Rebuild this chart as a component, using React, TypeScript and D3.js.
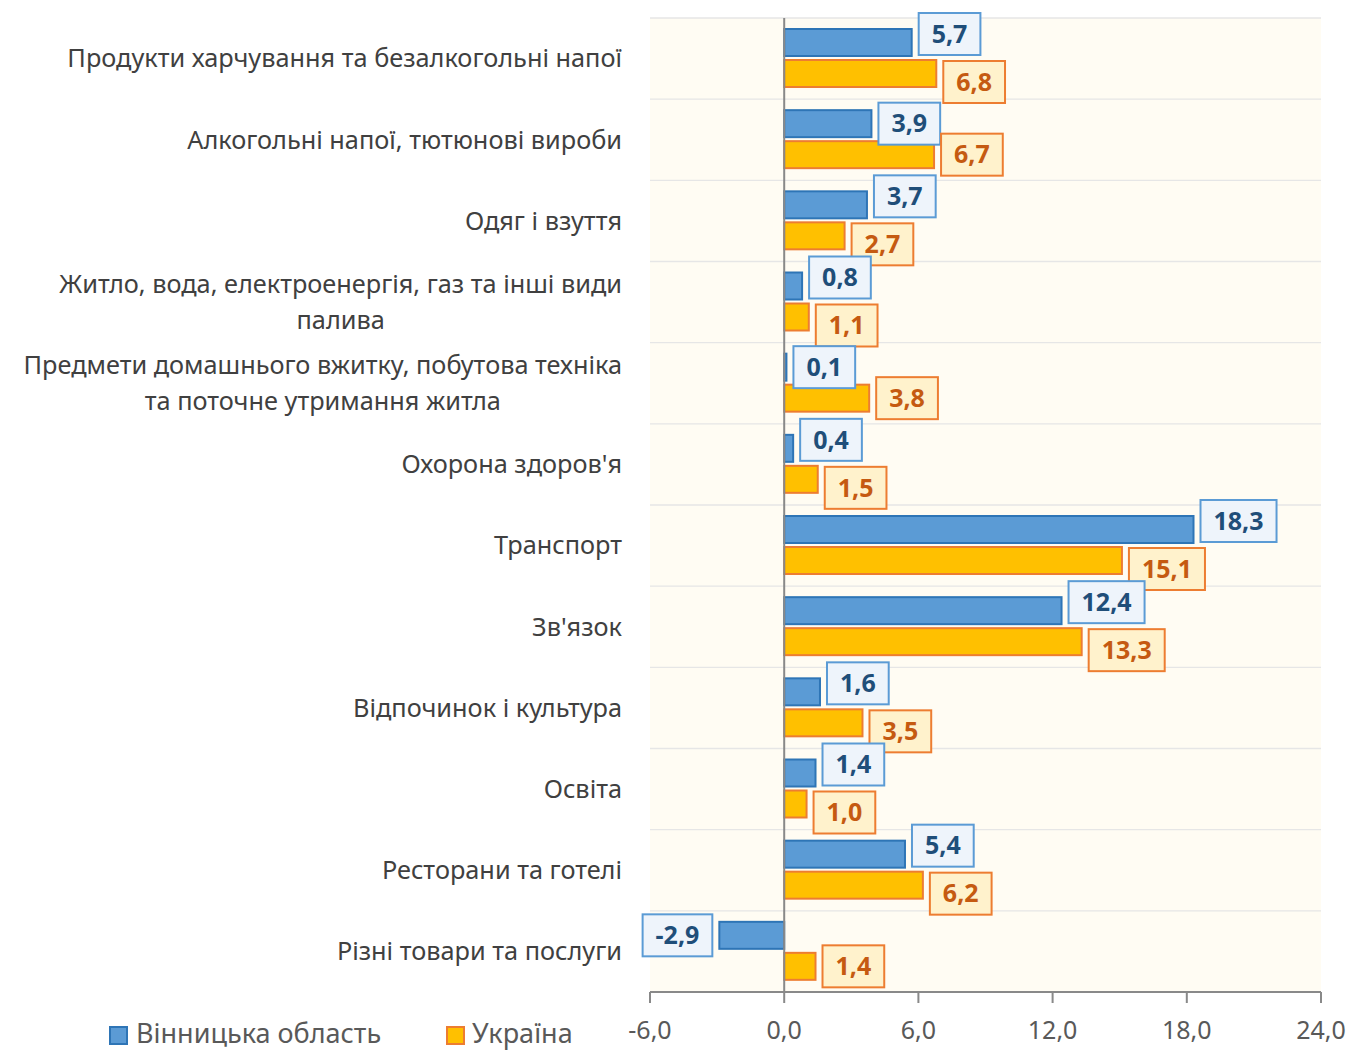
import React from "react";
import * as d3 from "d3";

const categories: string[][] = [
  ["Продукти харчування та безалкогольні напої"],
  ["Алкогольні напої, тютюнові вироби"],
  ["Одяг і взуття"],
  ["Житло, вода, електроенергія, газ та інші види", "палива"],
  ["Предмети домашнього вжитку, побутова техніка", "та поточне утримання житла"],
  ["Охорона здоров'я"],
  ["Транспорт"],
  ["Зв'язок"],
  ["Відпочинок і культура"],
  ["Освіта"],
  ["Ресторани та готелі"],
  ["Різні товари та послуги"],
];
const vinnytsia: number[] = [5.7, 3.9, 3.7, 0.8, 0.1, 0.4, 18.3, 12.4, 1.6, 1.4, 5.4, -2.9];
const ukraine: number[] = [6.8, 6.7, 2.7, 1.1, 3.8, 1.5, 15.1, 13.3, 3.5, 1.0, 6.2, 1.4];
const xTicks: number[] = [-6, 0, 6, 12, 18, 24];
const seriesNames: string[] = ["Вінницька область", "Україна"];

const FONT = "'Noto Sans', 'Open Sans', sans-serif";
const fmt = (v: number) => d3.format(".1f")(v).replace(".", ",").replace("−", "-");

let ctx: CanvasRenderingContext2D | null = null;
function measure(text: string, size: number, bold: boolean) {
  if (!ctx) ctx = document.createElement("canvas").getContext("2d");
  if (!ctx) return text.length * size * 0.55;
  ctx.font = `${bold ? "bold " : ""}${size}px 'Noto Sans'`;
  return ctx.measureText(text).width;
}

export default function App() {
  const W = 1355, H = 1050;
  const left = 650, right = 1321, top = 18, bottom = 992;
  const x = d3.scaleLinear().domain([-6, 24]).range([left, right]);
  const y = d3.scaleBand<number>().domain(categories.map((_, i) => i)).range([top, bottom]).padding(0);
  const bw = y.bandwidth();
  const barH = 27;
  const off1 = 11, off2 = 42;

  const blue = { fill: "#5B9BD5", stroke: "#2E75B6", text: "#1F4E79", boxFill: "#EEF4FB", boxStroke: "#5B9BD5" };
  const orange = { fill: "#FFC000", stroke: "#ED7D31", text: "#C55A11", boxFill: "#FFF2CC", boxStroke: "#ED7D31" };

  const labelFs = 25;
  const boxH = 42;
  const pad = 13;
  const gap = 7;

  type Lab = { x: number; w: number; cy: number; text: string };
  const labels: { b: Lab; o: Lab }[] = categories.map((_, i) => {
    const mk = (v: number, barY: number): Lab => {
      const t = fmt(v);
      const w = measure(t, labelFs, true) + pad * 2;
      const xe = x(v);
      const bx = v >= 0 ? xe + gap : xe - gap - w;
      return { x: bx, w, cy: barY + barH / 2, text: t };
    };
    const b = mk(vinnytsia[i], y(i)! + off1);
    const o = mk(ukraine[i], y(i)! + off2);
    const hOverlap = b.x < o.x + o.w && o.x < b.x + b.w;
    if (hOverlap) {
      const need = boxH + 6;
      const have = o.cy - b.cy;
      if (have < need) {
        const s = (need - have) / 2;
        b.cy -= s;
        o.cy += s;
      }
    }
    return { b, o };
  });

  const catFs = 25.3;
  const lineH = 36;

  return (
    <svg width={W} height={H} style={{ position: "absolute", left: 0, top: 0, background: "#fff" }} fontFamily={FONT}>
      <rect x={left} y={top} width={right - left} height={bottom - top} fill="#FFFCF3" />
      {categories.map((_, i) => (
        <line key={"g" + i} x1={left} x2={right} y1={y(i)!} y2={y(i)!} stroke="#E6E6E6" strokeWidth={1.3} />
      ))}
      {/* bars */}
      {vinnytsia.map((v, i) => (
        <rect key={"b" + i} x={Math.min(x(0), x(v))} y={y(i)! + off1} width={Math.abs(x(v) - x(0))} height={barH}
          fill={blue.fill} stroke={blue.stroke} strokeWidth={2} />
      ))}
      {ukraine.map((v, i) => (
        <rect key={"o" + i} x={Math.min(x(0), x(v))} y={y(i)! + off2} width={Math.abs(x(v) - x(0))} height={barH}
          fill={orange.fill} stroke={orange.stroke} strokeWidth={2} />
      ))}
      {/* zero line */}
      <line x1={x(0)} x2={x(0)} y1={top} y2={bottom} stroke="#898989" strokeWidth={2} />
      {/* axis */}
      <line x1={left} x2={right} y1={bottom} y2={bottom} stroke="#898989" strokeWidth={2} />
      {xTicks.map((t) => (
        <g key={"t" + t}>
          <line x1={x(t)} x2={x(t)} y1={bottom} y2={bottom + 11} stroke="#898989" strokeWidth={2} />
          <text x={x(t)} y={1039} textAnchor="middle" fontSize={25} fill="#595959">{fmt(t)}</text>
        </g>
      ))}
      {/* data labels */}
      {labels.map((l, i) => (
        <g key={"l" + i}>
          {[{ L: l.b, c: blue }, { L: l.o, c: orange }].map(({ L, c }, k) => (
            <g key={k}>
              <rect x={L.x} y={L.cy - boxH / 2} width={L.w} height={boxH} fill={c.boxFill} stroke={c.boxStroke} strokeWidth={2} />
              <text x={L.x + L.w / 2} y={L.cy} dy="0.35em" textAnchor="middle" fontSize={labelFs} fontWeight="bold" fill={c.text}>{L.text}</text>
            </g>
          ))}
        </g>
      ))}
      {/* category labels */}
      {categories.map((lines, i) => {
        const cy = y(i)! + bw / 2;
        const widths = lines.map((s) => measure(s, catFs, false));
        const maxW = Math.max(...widths);
        const cx = 622 - maxW / 2;
        return (
          <g key={"c" + i}>
            {lines.map((s, j) => (
              <text key={j} x={cx} y={cy + (j - (lines.length - 1) / 2) * lineH} dy="0.35em" textAnchor="middle"
                fontSize={catFs} fill="#404040">{s}</text>
            ))}
          </g>
        );
      })}
      {/* legend */}
      <rect x={110} y={1027} width={17} height={17} fill={blue.fill} stroke={blue.stroke} strokeWidth={2} />
      <text x={136} y={1043} fontSize={27} fill="#595959">{seriesNames[0]}</text>
      <rect x={447} y={1027} width={17} height={17} fill={orange.fill} stroke={orange.stroke} strokeWidth={2} />
      <text x={472} y={1043} fontSize={27} fill="#595959">{seriesNames[1]}</text>
    </svg>
  );
}
